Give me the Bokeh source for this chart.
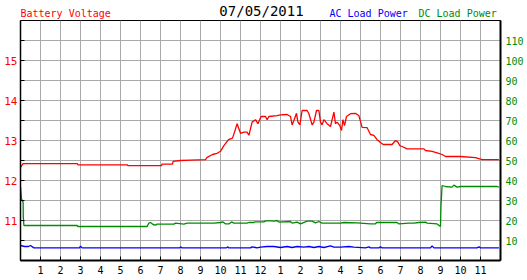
from bokeh.plotting import figure
from bokeh.models import Range1d, LinearAxis, FixedTicker, Grid
from bokeh.layouts import column
from bokeh.core.properties import value
from bokeh.embed import file_html
from bokeh.resources import INLINE

# ---- data ----
volt_hours = [0.0, 0.13, 2.85, 2.87, 5.35, 5.37, 7.05, 7.08, 7.6, 7.63, 8.0, 8.5, 9.25, 9.33, 9.6, 9.83,
              10.0, 10.17, 10.4, 10.6, 10.7, 10.83, 11.0, 11.17, 11.33, 11.42, 11.58, 11.75, 11.87,
              12.03, 12.25, 12.33, 12.42, 12.83, 13.0, 13.33, 13.5, 13.58, 13.67, 13.8, 13.87, 13.97,
              14.08, 14.33, 14.42, 14.58, 14.67, 14.8, 14.92, 15.0, 15.08, 15.17, 15.33, 15.5, 15.67,
              15.75, 15.83, 15.97, 16.05, 16.12, 16.2, 16.3, 16.5, 16.75, 16.92, 17.08, 17.33, 17.5,
              17.67, 17.83, 17.97, 18.13, 18.58, 18.75, 18.87, 18.97, 19.08, 19.33, 20.17, 20.25,
              20.58, 20.83, 21.08, 21.25, 22.0, 22.75, 23.08, 23.92]
voltage = [12.33, 12.42, 12.42, 12.39, 12.39, 12.37, 12.37, 12.41, 12.41, 12.48, 12.5, 12.51, 12.52, 12.58,
           12.65, 12.68, 12.73, 12.87, 13.02, 13.06, 13.21, 13.42, 13.18, 13.21, 13.21, 13.13, 13.46,
           13.52, 13.42, 13.6, 13.6, 13.52, 13.6, 13.62, 13.64, 13.65, 13.6, 13.39, 13.5, 13.68, 13.46,
           13.39, 13.75, 13.75, 13.67, 13.39, 13.46, 13.75, 13.75, 13.46, 13.39, 13.52, 13.42, 13.35,
           13.71, 13.42, 13.46, 13.37, 13.25, 13.52, 13.37, 13.6, 13.67, 13.68, 13.62, 13.33, 13.32,
           13.15, 13.13, 13.02, 12.96, 12.9, 12.9, 13.0, 12.96, 12.87, 12.85, 12.79, 12.79, 12.75,
           12.73, 12.69, 12.65, 12.6, 12.6, 12.57, 12.52, 12.52]

dc_hours = [0.0, 0.05, 0.13, 0.14, 0.17, 2.83, 2.87, 6.33, 6.42, 6.5, 6.63, 6.75, 6.83, 7.67, 7.75, 8.17,
            8.33, 9.67, 10.0, 10.13, 10.25, 10.42, 10.55, 10.67, 11.33, 11.42, 11.67, 11.7, 12.17, 12.25,
            12.5, 12.67, 12.83, 12.92, 13.5, 13.58, 13.83, 14.0, 14.33, 14.58, 14.75, 14.92, 15.08, 16.0,
            16.17, 16.83, 17.5, 17.75, 17.8, 18.83, 18.92, 19.42, 19.67, 19.92, 20.25, 20.33, 20.83, 21.0,
            21.02, 21.08, 21.25, 21.58, 21.67, 21.83, 22.0, 23.83, 23.92]
dc_power = [36.7, 30.8, 29.2, 21.7, 17.5, 17.5, 17.0, 17.0, 18.7, 19.0, 18.0, 17.7, 18.2, 18.2, 18.7, 18.2,
            18.7, 18.7, 19.0, 19.3, 18.3, 18.3, 19.3, 18.7, 18.7, 19.0, 19.0, 19.3, 19.3, 19.8,
            19.8, 19.7, 20.0, 19.2, 19.5, 18.7, 19.2, 18.3, 19.7, 19.7, 18.8, 19.5, 18.7, 18.7,
            19.0, 18.8, 18.3, 18.3, 19.0, 19.0, 18.3, 18.7, 18.7, 19.0, 19.2, 18.7, 18.3, 17.0,
            26.7, 37.5, 37.0, 36.7, 37.7, 36.7, 37.0, 37.0, 36.7]

ac_hours = [0.0, 0.2, 0.4, 0.5, 0.67, 2.95, 3.0, 3.08, 7.95, 8.0, 8.08, 10.3, 10.35, 10.42, 11.5, 11.58,
            11.75, 11.83, 12.0, 12.33, 12.67, 13.0, 13.33, 13.58, 13.83, 14.17, 14.42, 14.67, 14.92,
            15.17, 15.5, 15.67, 16.0, 16.42, 16.67, 17.25, 17.42, 17.5, 17.92, 18.0, 18.08, 20.5,
            20.58, 20.67, 22.83, 22.92, 23.0, 23.92]
ac_power = [7.5, 7.0, 7.0, 7.5, 6.3, 6.3, 7.2, 6.3, 6.3, 6.8, 6.3, 6.3, 6.8, 6.3, 6.3, 6.8,
            6.5, 6.3, 6.7, 7.0, 7.0, 6.5, 7.0, 6.5, 7.0, 6.7, 7.0, 6.5, 7.0,
            6.5, 7.3, 6.7, 6.7, 7.0, 6.7, 6.3, 6.8, 6.3, 6.3, 6.8, 6.3, 6.3,
            7.3, 6.3, 6.3, 6.8, 6.3, 6.3]

hour_ticks = list(range(1, 24))
hour_labels = ["1", "2", "3", "4", "5", "6", "7", "8", "9", "10", "11", "12",
               "1", "2", "3", "4", "5", "6", "7", "8", "9", "10", "11"]
volt_ticks = [11, 12, 13, 14, 15]
volt_minor = [10.5, 11.5, 12.5, 13.5, 14.5, 15.5]
power_ticks = [10, 20, 30, 40, 50, 60, 70, 80, 90, 100, 110]

header_texts = ["Battery Voltage", "07/05/2011", "AC Load Power", "DC Load Power"]

FONT = "DejaVu Sans Mono"
RED = "#ff0000"
GREEN = "#008c00"
BLUE = "#0000ff"
GRID = "#aaaaaa"

# ---- header strip; its frame is aligned with the chart frame (x 20..500 px) ----
head = figure(width=527, height=20, output_backend="svg", toolbar_location=None, title=None,
              x_range=Range1d(20, 500), y_range=Range1d(20, 0),
              min_border_left=20, min_border_right=27, min_border_top=0, min_border_bottom=0,
              x_axis_type=None, y_axis_type=None)
head.outline_line_color = None
head.grid.visible = False
head_x = [20, 261, 329, 418]
head_y = [12.5, 10.5, 12.5, 12.5]
head_align = ["left", "center", "left", "left"]
head_size = ["10px", "14px", "10px", "10px"]
head_color = [RED, "black", BLUE, GREEN]
head.text(x=head_x, y=head_y, text=header_texts, text_align=head_align,
          text_font_size=head_size, text_color=head_color,
          text_baseline="alphabetic", text_font=value(FONT))

# ---- main chart ----
p = figure(width=527, height=260, output_backend="svg", toolbar_location=None, title=None,
           x_range=Range1d(0, 24), y_range=Range1d(10, 16),
           min_border_left=20, min_border_right=27, min_border_top=0, min_border_bottom=20,
           x_axis_type=None, y_axis_type=None)
p.extra_y_ranges = {"power": Range1d(0, 120)}
p.outline_line_color = "black"
p.outline_line_width = 1
p.background_fill_color = "white"
p.border_fill_color = "white"

xaxis = LinearAxis(ticker=FixedTicker(ticks=hour_ticks),
                   major_label_overrides={t: l for t, l in zip(hour_ticks, hour_labels)})
xaxis.axis_line_color = "black"
xaxis.axis_line_width = 2
xaxis.major_tick_in = 4
xaxis.major_tick_out = 0
xaxis.major_tick_line_color = "black"
xaxis.minor_tick_line_color = None
xaxis.major_label_standoff = 5
xaxis.major_label_text_font = FONT
xaxis.major_label_text_font_size = "10px"
xaxis.major_label_text_color = "black"
p.add_layout(xaxis, "below")

yaxis = LinearAxis(ticker=FixedTicker(ticks=volt_ticks, minor_ticks=volt_minor))
yaxis.axis_line_color = "black"
yaxis.axis_line_width = 1.5
yaxis.major_tick_in = 4
yaxis.major_tick_out = 0
yaxis.minor_tick_in = 4
yaxis.minor_tick_out = 0
yaxis.major_tick_line_color = "black"
yaxis.minor_tick_line_color = "black"
yaxis.major_label_standoff = 3
yaxis.major_label_text_font = FONT
yaxis.major_label_text_font_size = "11px"
yaxis.major_label_text_color = RED
p.add_layout(yaxis, "left")

raxis = LinearAxis(y_range_name="power", ticker=FixedTicker(ticks=power_ticks))
raxis.axis_line_color = "black"
raxis.axis_line_width = 2
raxis.major_tick_in = 0
raxis.major_tick_out = 0
raxis.minor_tick_line_color = None
raxis.major_label_standoff = 5
raxis.major_label_text_font = FONT
raxis.major_label_text_font_size = "10px"
raxis.major_label_text_color = GREEN
p.add_layout(raxis, "right")

p.add_layout(Grid(dimension=0, ticker=xaxis.ticker, grid_line_color=GRID, grid_line_width=1))
p.add_layout(Grid(dimension=1, ticker=yaxis.ticker, grid_line_color=GRID, grid_line_width=1,
                  minor_grid_line_color=GRID, minor_grid_line_width=1))

p.line(ac_hours, ac_power, y_range_name="power", line_color=BLUE, line_width=1.3)
p.line(dc_hours, dc_power, y_range_name="power", line_color=GREEN, line_width=1.3)
p.line(volt_hours, voltage, line_color=RED, line_width=1.3)

layout = column(head, p, spacing=0)
open("out.html", "w").write(file_html(layout, INLINE))
